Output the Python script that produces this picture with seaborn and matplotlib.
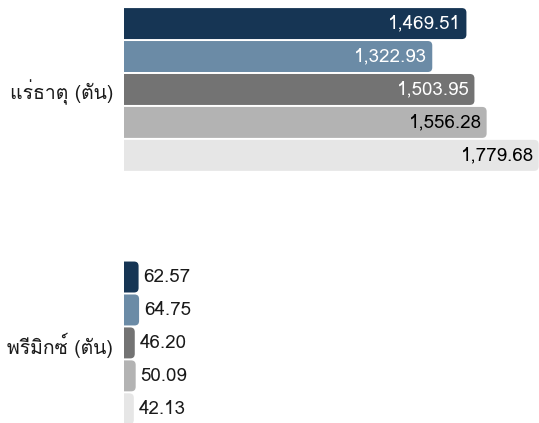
import matplotlib
matplotlib.use("Agg")
import matplotlib.pyplot as plt
from matplotlib import font_manager
from matplotlib.ft2font import FT2Font
from matplotlib.patches import FancyBboxPatch
import seaborn as sns
import pandas as pd

categories = ["แร่ธาตุ (ตัน)", "พรีมิกซ์ (ตัน)"]
series = ["ชุดที่ 1", "ชุดที่ 2", "ชุดที่ 3", "ชุดที่ 4", "ชุดที่ 5"]
values = {
    "ชุดที่ 1": [1469.51, 62.57],
    "ชุดที่ 2": [1322.93, 64.75],
    "ชุดที่ 3": [1503.95, 46.20],
    "ชุดที่ 4": [1556.28, 50.09],
    "ชุดที่ 5": [1779.68, 42.13],
}
colors = ["#163554", "#6b8ba6", "#737373", "#b3b3b3", "#e6e6e6"]
inside_text_colors = ["white", "white", "white", "black", "black"]

# find a font with Thai glyphs
thai_family = None
for f in font_manager.fontManager.ttflist:
    try:
        cm = FT2Font(f.fname).get_charmap()
        if ord("ร") in cm and ord("ุ") in cm:
            thai_family = f.name
            break
    except Exception:
        pass

sns.set_theme(style="white")
fams = ([thai_family] if thai_family else []) + ["DejaVu Sans"]
plt.rcParams["font.family"] = fams

rows = []
for s in series:
    for c, v in zip(categories, values[s]):
        rows.append({"category": c, "series": s, "value": v})
df = pd.DataFrame(rows)

fig = plt.figure(figsize=(5.39, 4.23), dpi=100)
ax = fig.add_axes([124 / 539, 0, 415 / 539, 1])
sns.barplot(data=df, y="category", x="value", hue="series", hue_order=series,
            order=categories, palette=colors, orient="h", width=0.65, gap=0.06,
            legend=False, ax=ax, saturation=1, linewidth=0)

ax.set_xlim(0, 1781)
ax.set_ylim(1.316, -0.353)
for sp in ax.spines.values():
    sp.set_visible(False)
ax.set_xticks([])
ax.set_xlabel("")
ax.set_ylabel("")
ax.tick_params(axis="y", length=0, pad=8, labelsize=14, labelcolor="#1a1a1a")

px_x = 1781 / 415.0
px_y = (1.316 + 0.353) / 423.0
rad = 4.5
rx = rad * px_x
ry = rad * px_y

for i, cont in enumerate(ax.containers):
    for j, p in enumerate(cont.patches):
        x, y = p.get_x(), p.get_y()
        w, h = p.get_width(), p.get_height()
        fc = p.get_facecolor()
        p.remove()
        fb = FancyBboxPatch((x - rx, y), w + rx, h,
                            boxstyle=f"round,pad=0,rounding_size={rx}",
                            mutation_aspect=ry / rx, facecolor=fc,
                            edgecolor="none", linewidth=0)
        ax.add_patch(fb)
        yc = y + h / 2
        if w > 500:
            ax.annotate(f"{w:,.2f}", xy=(w, yc), xytext=(-5, 0),
                        textcoords="offset pixels", ha="right", va="center",
                        fontsize=13.5, color=inside_text_colors[i])
        else:
            ax.annotate(f"{w:,.2f}", xy=(w, yc), xytext=(5, 0),
                        textcoords="offset pixels", ha="left", va="center",
                        fontsize=13.5, color="#1a1a1a")

fig.savefig("out.png", dpi=100)
